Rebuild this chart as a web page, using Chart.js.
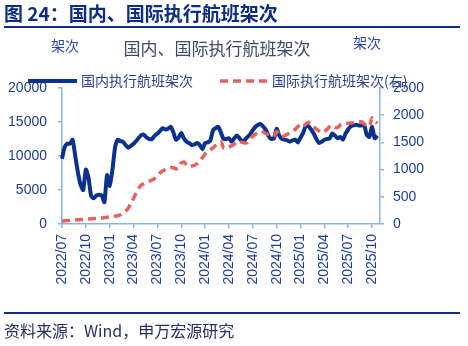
<!DOCTYPE html>
<html>
<head>
<meta charset="utf-8">
<script src="https://cdn.jsdelivr.net/npm/chart.js@4/dist/chart.umd.min.js"></script>
<style>
  html, body { margin: 0; padding: 0; background: #fff; }
  #wrap { position: relative; width: 468px; height: 346px; }
</style>
</head>
<body>
<div id="wrap"><canvas id="myChart" width="468" height="346"></canvas></div>
<script>
// 分类：每月 01/11/21 三个点，2022/07/01 ~ 2025/11/01
var dates = [];
for (var m = 0; m <= 40; m++) {
    var yy = 2022 + Math.floor((6 + m) / 12);
    var mm = ('0' + ((6 + m) % 12 + 1)).slice(-2);
    ['01', '11', '21'].forEach(function(d) {
        if (m == 40 && d != '01') return;
        dates.push(yy + '/' + mm + '/' + d);
    });
}

// 轴刻度标签
var tickLabels = ['2022/07', '2022/10', '2023/01', '2023/04', '2023/07', '2023/10', '2024/01',
                  '2024/04', '2024/07', '2024/10', '2025/01', '2025/04', '2025/07', '2025/10'];

// 国内执行航班架次（左轴）
var domestic = [
    9600, 11300, 11800, 11800, 12400, 10000, 7600, 5800, 5000, 8000,
    6800, 4100, 3800, 4200, 4300, 4200, 3200, 7200, 5600, 7900,
    11200, 12400, 12200, 12100, 11600, 11200, 11500, 11800, 12200, 12700,
    13100, 13100, 12700, 12500, 12500, 13000, 13300, 13700, 14100, 13900,
    14000, 14300, 13500, 12400, 12700, 13400, 12600, 12100, 11900, 11600,
    11700, 11900, 11600, 11000, 11900, 12000, 12300, 13800, 14100, 14300,
    13400, 12500, 12500, 12600, 12100, 12600, 13000, 12600, 12100, 12400,
    12800, 13200, 13800, 14300, 14600, 14700, 14300, 13800, 12900, 12500,
    12600, 14000, 13000, 12500, 12400, 12300, 12100, 12300, 12400, 12000,
    12700, 13400, 14400, 14400, 13900, 13300, 12500, 11900, 12100, 12400,
    12500, 12600, 13300, 13000, 12600, 12800, 12400, 13300, 13900, 14400,
    14500, 14600, 14500, 14500, 14600, 13100, 12800, 14300, 12600, 13000
];

// 国际执行航班架次（右轴）
var intl = [
    55, 58, 62, 66, 70, 74, 78, 82, 85, 88,
    92, 96, 100, 104, 108, 112, 118, 124, 130, 138,
    145, 152, 170, 200, 240, 290, 380, 470, 570, 660,
    720, 745, 770, 790, 810, 840, 890, 940, 980, 1000,
    1030, 1040, 1035, 1010, 1040, 1120, 1140, 1090, 1055, 1065,
    1080, 1110, 1160, 1220, 1290, 1330, 1365, 1400, 1450, 1490,
    1510, 1400, 1390, 1410, 1440, 1470, 1510, 1520, 1500, 1490,
    1500, 1560, 1620, 1650, 1680, 1700, 1690, 1660, 1640, 1610,
    1620, 1700, 1650, 1610, 1620, 1650, 1670, 1700, 1740, 1790,
    1830, 1800, 1840, 1870, 1810, 1780, 1745, 1710, 1680, 1700,
    1740, 1790, 1815, 1780, 1770, 1820, 1840, 1845, 1850, 1855,
    1860, 1865, 1875, 1880, 1840, 1810, 1800, 1950, 1900, 1850
];

var BLUE = '#0b318f';
var RED = '#e8625d';
var AXIS = '#8ab4e0';
var TICK = '#1e3c9a';
var FONT = '"Liberation Sans", Arial, sans-serif';
var CJK = '"Noto Sans CJK SC", sans-serif';

function quarterLabel(i) {
    var d = dates[i];
    if (!d || d.slice(-3) != '/01') return '';
    var ym = d.slice(0, 7);
    return tickLabels.indexOf(ym) >= 0 ? ym : '';
}

// 标题、图例、来源
var decor = {
    id: 'decor',
    afterDraw: function(chart) {
        var c = chart.ctx;
        c.save();
        c.textBaseline = 'middle';
        c.fillStyle = '#0d2d84';
        c.font = 'bold 19px ' + CJK;
        c.fillText('图 24：国内、国际执行航班架次', 4, 14);
        c.fillStyle = '#0b2f8a';
        c.fillRect(4, 26, 456, 2);
        c.fillRect(4, 312, 456, 2);

        c.fillStyle = '#3d4a6e';
        c.font = '17px ' + CJK;
        c.textAlign = 'center';
        c.fillText('国内、国际执行航班架次', 217, 49);

        c.textAlign = 'left';
        c.fillStyle = '#2a44b0';
        c.font = '14px ' + CJK;
        c.fillText('架次', 51, 46);
        c.fillText('架次', 353, 43);

        // 图例
        c.strokeStyle = BLUE;
        c.lineWidth = 4;
        c.beginPath(); c.moveTo(28, 81); c.lineTo(77, 81); c.stroke();
        c.strokeStyle = RED;
        c.lineWidth = 3.5;
        c.setLineDash([8, 5]);
        c.beginPath(); c.moveTo(220, 81); c.lineTo(268, 81); c.stroke();
        c.setLineDash([]);
        c.fillStyle = '#2e418f';
        c.font = '14px ' + CJK;
        c.fillText('国内执行航班架次', 81, 81);
        c.fillText('国际执行航班架次(右)', 272, 81);

        c.fillStyle = '#243063';
        c.font = '16px ' + CJK;
        c.fillText('资料来源：Wind，申万宏源研究', 4, 331);
        c.restore();
    }
};

var ctx = document.getElementById('myChart').getContext('2d');
var chart = new Chart(ctx, {
    type: 'line',
    data: {
        labels: dates,
        datasets: [{
            label: '国内执行航班架次',
            data: domestic,
            yAxisID: 'y',
            borderColor: BLUE,
            borderWidth: 4,
            pointRadius: 0,
            tension: 0.2,
            order: 1
        }, {
            label: '国际执行航班架次(右)',
            data: intl,
            yAxisID: 'y1',
            borderColor: RED,
            borderWidth: 3.5,
            borderDash: [8, 5],
            pointRadius: 0,
            tension: 0.2,
            order: 0
        }]
    },
    options: {
        responsive: false,
        animation: false,
        layout: { padding: { top: 88, left: 0, right: 0, bottom: 0 } },
        plugins: {
            legend: { display: false },
            title: { display: false },
            tooltip: { enabled: false }
        },
        scales: {
            x: {
                afterFit: function(s) { s.height = 122; },
                border: { color: AXIS, width: 1.5 },
                grid: {
                    drawOnChartArea: false,
                    tickLength: 4,
                    color: function(c) { return quarterLabel(c.index) ? AXIS : 'rgba(0,0,0,0)'; },
                    lineWidth: 1.5
                },
                ticks: {
                    autoSkip: false,
                    minRotation: 90,
                    maxRotation: 90,
                    padding: 6,
                    color: TICK,
                    font: { family: FONT, size: 14 },
                    callback: function(v, i) { return quarterLabel(i); }
                }
            },
            y: {
                position: 'left',
                min: 0,
                max: 20000,
                afterFit: function(s) { s.width = 62; },
                border: { color: AXIS, width: 1.5 },
                grid: { drawOnChartArea: false, tickLength: 4, color: AXIS, lineWidth: 1.5 },
                ticks: {
                    stepSize: 5000,
                    padding: 11,
                    color: TICK,
                    font: { family: FONT, size: 14 },
                    callback: function(v) { return String(v); }
                }
            },
            y1: {
                position: 'right',
                min: 0,
                max: 2500,
                afterFit: function(s) { s.width = 88; },
                border: { color: AXIS, width: 1.5 },
                grid: { drawOnChartArea: false, tickLength: 4, color: AXIS, lineWidth: 1.5 },
                ticks: {
                    stepSize: 500,
                    padding: 9,
                    color: TICK,
                    font: { family: FONT, size: 14 },
                    callback: function(v) { return String(v); }
                }
            }
        }
    },
    plugins: [decor]
});
</script>
</body>
</html>
